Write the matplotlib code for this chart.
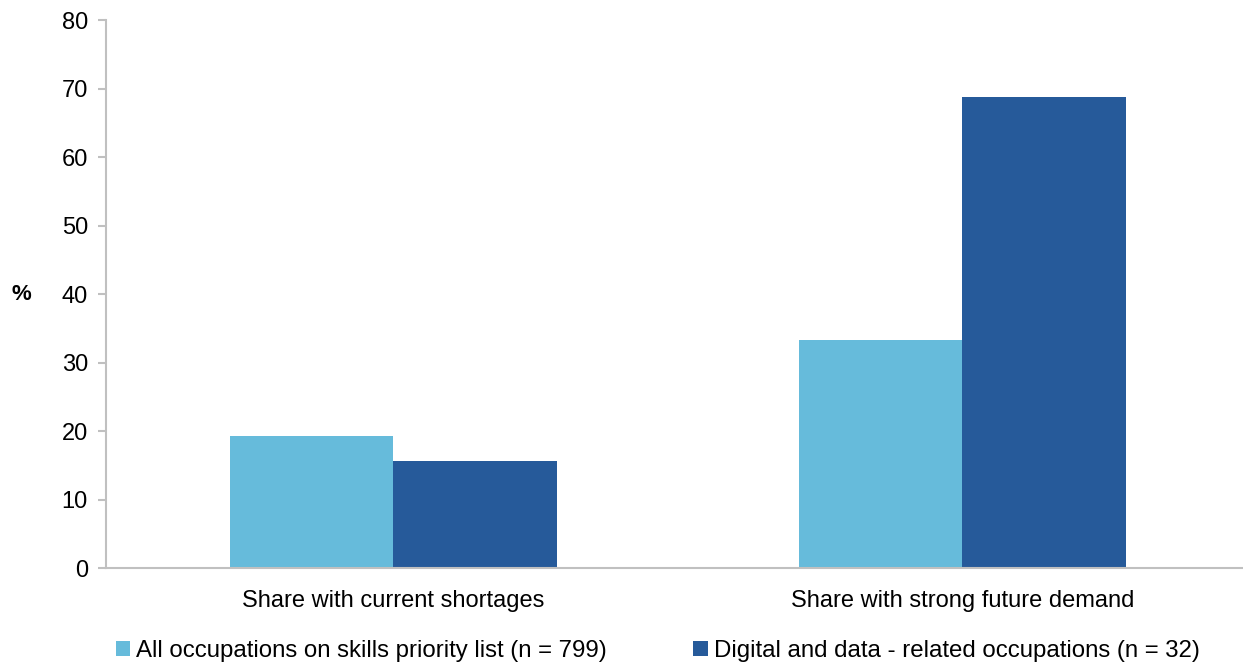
import numpy as np
import matplotlib.pyplot as plt

plt.rcParams['font.family'] = ['Liberation Sans', 'DejaVu Sans']

categories = ['Share with current shortages', 'Share with strong future demand']
series_names = ['All occupations on skills priority list (n = 799)',
                'Digital and data - related occupations (n = 32)']
all_occ = [19.3, 33.3]
digital = [15.6, 68.75]
colors = ['#66bbdb', '#265a9a']

fig = plt.figure(figsize=(12.43, 6.68), dpi=100)
ax = fig.add_axes([0.0853, 0.1497, 0.9147, 0.8203])

x = np.arange(len(categories))
w = 0.288
ax.bar(x - w / 2, all_occ, width=w, color=colors[0], label=series_names[0])
ax.bar(x + w / 2, digital, width=w, color=colors[1], label=series_names[1])

ax.set_xlim(-0.505, 1.493)
ax.set_ylim(0, 80)
ax.set_yticks(range(0, 81, 10))
ax.set_xticks(x)
ax.set_xticklabels(categories, fontsize=17)
ax.tick_params(axis='x', length=0, pad=16)
ax.tick_params(axis='y', labelsize=17, length=6, color='#c0c0c0', width=1.5, pad=7)
for s in ['top', 'right']:
    ax.spines[s].set_visible(False)
for s in ['left', 'bottom']:
    ax.spines[s].set_color('#c0c0c0')
    ax.spines[s].set_linewidth(1.5)

fig.text(0.017, 0.559, '%', fontsize=16, fontweight='bold', ha='center', va='center')

fig.legend(loc='center', bbox_to_anchor=(0.529, 0.025), ncol=2, frameon=False,
           fontsize=17.3, handlelength=0.6, handleheight=0.6, handletextpad=0.25,
           columnspacing=3.6)

fig.savefig('out.png', dpi=100)
